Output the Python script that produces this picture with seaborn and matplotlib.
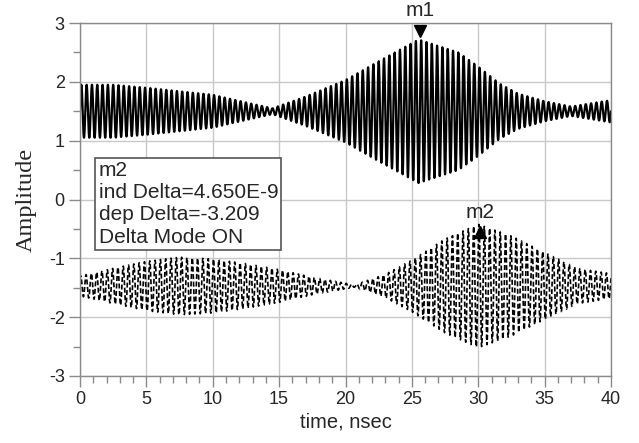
import numpy as np
import pandas as pd
import matplotlib
matplotlib.use("Agg")
import matplotlib.pyplot as plt
import seaborn as sns

# ---- data ----
# envelope (half peak-to-peak amplitude) of the upper trace, centred at 1.5
top_t = [0, 2.5, 5, 7.5, 10, 12.5, 14.5, 17, 20, 22.5, 25.5, 28.5, 30, 31.6, 33, 35, 37, 40]
top_amp = [0.45, 0.45, 0.40, 0.34, 0.28, 0.15, 0.05, 0.25, 0.53, 0.85, 1.22, 1.0, 0.76, 0.47, 0.30, 0.17, 0.08, 0.19]
top_center = 1.5
# envelope of the lower (dashed) trace, centred at -1.47
bot_t = [0, 2.5, 5, 7.5, 10, 12.5, 15, 17.5, 20.7, 23, 25, 27.5, 30, 32.5, 35, 37.5, 40]
bot_amp = [0.17, 0.30, 0.42, 0.49, 0.46, 0.38, 0.28, 0.15, 0.02, 0.20, 0.44, 0.80, 1.05, 0.85, 0.57, 0.30, 0.21]
bot_center = -1.47
carrier_ghz = 2.5

x_ticks = [0, 5, 10, 15, 20, 25, 30, 35, 40]
y_ticks = [-3, -2, -1, 0, 1, 2, 3]

marker_m1 = (25.6, 2.72)
marker_m2 = (30.1, -0.56)
box_lines = ["m2", "ind Delta=4.650E-9", "dep Delta=-3.209", "Delta Mode ON"]

# ---- build traces ----
t = np.linspace(0, 40, 8001)
top_env = np.interp(t, top_t, top_amp)
bot_env = np.interp(t, bot_t, bot_amp)
top_y = top_center + top_env * np.sin(2 * np.pi * carrier_ghz * t)
bot_y = bot_center + bot_env * np.sin(2 * np.pi * carrier_ghz * t + 0.7)
df_top = pd.DataFrame({"time": t, "amp": top_y})
df_bot = pd.DataFrame({"time": t, "amp": bot_y})

sns.set_style("white")
plt.rcParams['font.family'] = ['Liberation Sans', 'DejaVu Sans']
plt.rcParams['axes.unicode_minus'] = False

fig = plt.figure(figsize=(6.39, 4.43), dpi=100)
ax = fig.add_axes([80 / 639, 1 - 376 / 443, (611 - 80) / 639, (376 - 23) / 443])

sns.lineplot(data=df_top, x="time", y="amp", ax=ax, color="black", lw=1.6,
             estimator=None, sort=False)
sns.lineplot(data=df_bot, x="time", y="amp", ax=ax, color="black", lw=1.2,
             estimator=None, sort=False)
ax.lines[-1].set_linestyle((0, (3, 1.5)))

ax.set_xlim(0, 40)
ax.set_ylim(-3, 3)
ax.set_xticks(x_ticks)
ax.set_yticks(y_ticks)
ax.set_xticks(np.arange(0, 41, 1), minor=True)
ax.set_yticks(np.arange(-3, 3.01, 0.5), minor=True)
ax.grid(True, which="major", color="#c8c8c8", lw=1.0)
ax.set_axisbelow(True)
for s in ax.spines.values():
    s.set_color("#8a8a8a")
    s.set_linewidth(1.0)
ax.tick_params(axis="both", which="both", bottom=True, left=True, top=False, right=False)
ax.tick_params(axis="both", which="major", direction="out", length=8, width=1,
               color="#8a8a8a", labelsize=13, pad=3)
ax.tick_params(axis="both", which="minor", direction="out", length=5, width=1,
               color="#8a8a8a")
ax.tick_params(axis="x", which="major", pad=3)
ax.set_xlabel("time, nsec", fontsize=14.5, labelpad=3)
ax.set_ylabel("Amplitude", fontsize=17.5, family=["Liberation Serif", "DejaVu Serif"], labelpad=9)

# markers
ax.plot([marker_m1[0]], [marker_m1[1] + 0.15], marker="v", color="black", ms=8, clip_on=False)
ax.text(marker_m1[0], 3.05, "m1", ha="center", va="bottom", fontsize=15)
ax.plot([marker_m2[0]], [marker_m2[1]], marker="^", color="black", ms=8)
ax.text(marker_m2[0], marker_m2[1] + 0.18, "m2", ha="center", va="bottom", fontsize=15)

ax.text(1.4, -0.8, "\n".join(box_lines), ha="left", va="bottom", fontsize=15,
        linespacing=1.22,
        bbox=dict(boxstyle="square,pad=0.15", fc="white", ec="#555555", lw=1.2))

fig.savefig("out.png", dpi=100)
